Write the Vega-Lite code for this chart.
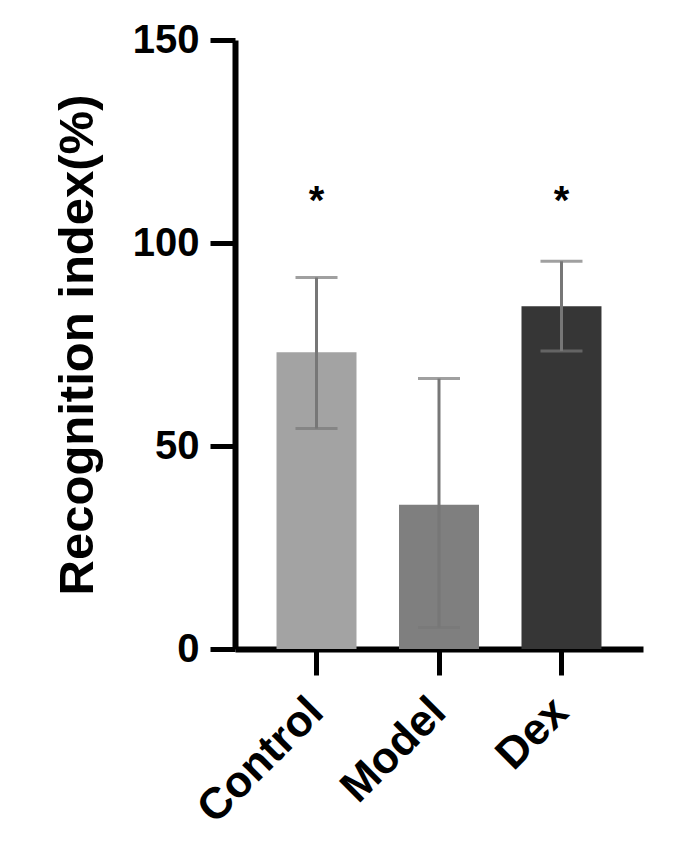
{
  "$schema": "https://vega.github.io/schema/vega-lite/v6.json",
  "width": 408,
  "height": 609,
  "autosize": {"type": "none"},
  "padding": {"left": 235, "top": 40, "right": 42, "bottom": 200},
  "background": "white",
  "config": {
    "view": {"stroke": null},
    "axis": {
      "domainColor": "black",
      "domainWidth": 6,
      "tickColor": "black",
      "tickWidth": 5,
      "tickSize": 26,
      "grid": false,
      "labelFont": "Liberation Sans",
      "labelFontSize": 40,
      "labelFontWeight": "bold",
      "labelColor": "black",
      "titleFont": "Liberation Sans",
      "titleColor": "black"
    }
  },
  "data": {
    "values": [
      {"group": "Control", "mean": 73.1, "lower": 54.3, "upper": 91.5, "sig": "*"},
      {"group": "Model", "mean": 35.5, "lower": 5.3, "upper": 66.6, "sig": ""},
      {"group": "Dex", "mean": 84.4, "lower": 73.4, "upper": 95.5, "sig": "*"}
    ]
  },
  "encoding": {
    "x": {
      "field": "group",
      "type": "nominal",
      "sort": null,
      "scale": {"paddingInner": 0.347, "paddingOuter": 0.339},
      "axis": {
        "title": null,
        "labelAngle": -45,
        "labelAlign": "right",
        "labelBaseline": "middle",
        "labelFontSize": 44,
        "labelPadding": 30
      }
    }
  },
  "layer": [
    {
      "mark": {"type": "bar"},
      "encoding": {
        "y": {
          "field": "mean",
          "type": "quantitative",
          "scale": {"domain": [0, 150], "nice": false},
          "axis": {
            "values": [0, 50, 100, 150],
            "tickSize": 25,
            "labelPadding": 11,
            "title": "Recognition index(%)",
            "titleFontSize": 49,
            "titleFontWeight": "bold",
            "titlePadding": 30
          }
        },
        "color": {
          "field": "group",
          "type": "nominal",
          "scale": {"domain": ["Control", "Model", "Dex"], "range": ["#a3a3a3", "#7f7f7f", "#363636"]},
          "legend": null
        }
      }
    },
    {
      "mark": {"type": "rule", "color": "#777777", "strokeWidth": 3},
      "encoding": {
        "y": {"field": "lower", "type": "quantitative"},
        "y2": {"field": "upper"}
      }
    },
    {
      "mark": {"type": "tick", "color": "#777777", "thickness": 3, "size": 42},
      "encoding": {"y": {"field": "lower", "type": "quantitative"}}
    },
    {
      "mark": {"type": "tick", "color": "#777777", "thickness": 3, "size": 42},
      "encoding": {"y": {"field": "upper", "type": "quantitative"}}
    },
    {
      "mark": {"type": "text", "font": "Liberation Sans", "fontSize": 40, "fontWeight": "bold", "baseline": "middle", "color": "black"},
      "encoding": {
        "text": {"field": "sig"},
        "y": {"datum": 110, "type": "quantitative"}
      }
    }
  ]
}
